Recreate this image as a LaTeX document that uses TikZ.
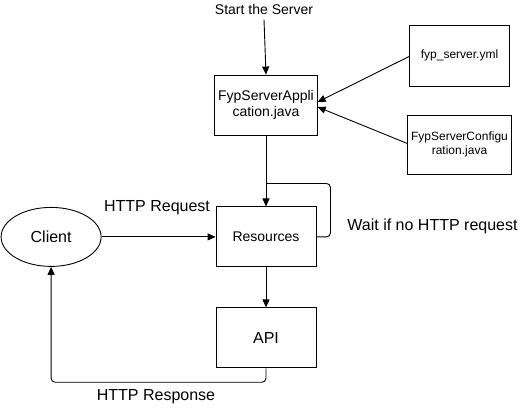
\documentclass[tikz,border=0pt]{standalone}
\usepackage{fontspec}
\setmainfont{Liberation Sans}
\usetikzlibrary{positioning,calc,arrows.meta,shapes.geometric}

\begin{document}
\begin{tikzpicture}[
    x=1pt, y=-1pt,
    line width=0.9pt,
    >={Triangle[length=8pt,width=7pt]},
    box/.style={ draw=black,
      anchor=center,
      align=center,
      minimum height=60pt,
      minimum width=100pt},
    small box/.style={box, font=\fontsize{12}{13.5}\selectfont},
    label text/.style={anchor=base, inner sep=0pt, font=\fontsize{16}{18}\selectfont}]
    \useasboundingbox (0,0) rectangle (522,407);

    \node[box, font=\fontsize{14}{16}\selectfont] (App) at (266,105) {FypServerAppli\\cation.java};
    \node[box, below=71pt of App, font=\fontsize{14}{16}\selectfont] (Res) {Resources};
    \node[box, below=40pt of Res, font=\fontsize{16}{18}\selectfont] (API) {API};
    \node[ellipse, draw=black, minimum width=100pt, minimum height=59pt,
          left=114pt of Res, font=\fontsize{16}{18}\selectfont] (Client) {Client};
    \node[small box, minimum height=61pt] (Yml) at (459.5,55.5) {fyp\_server.yml};
    \node[small box, minimum height=59pt] (Conf) at (459.5,144.5) {FypServerConfigu\\ration.java};

    \node[label text, font=\fontsize{14}{16}\selectfont] (Start) at (264,14) {Start the Server};
    \node[label text] (Req) at (157,211) {HTTP Request};
    \node[label text] (Wait) at (432.5,230) {Wait if no HTTP request};
    \node[label text] (Resp) at (156,400) {HTTP Response};
    \coordinate (Loop) at ($(App.south)+(0,48)$);

    \draw[->] ([yshift=-5pt]Start.south) -- (App.north);
    \draw[->] ([yshift=-1pt]Yml.west) -- ([yshift=3pt]App.east);
    \draw[->] ([yshift=1pt]Conf.west) -- ([yshift=-2pt]App.east);
    \draw[->] (App) -- (Res);
    \draw[rounded corners=4pt] (Res.east) -- ++(14,0) |- (Loop);
    \draw[->] (Client) -- (Res);
    \draw[->] (Res) -- (API);
    \draw[->, rounded corners=4pt] (API.south) -- ++(0,14) -| (Client.south);
\end{tikzpicture}
\end{document}
